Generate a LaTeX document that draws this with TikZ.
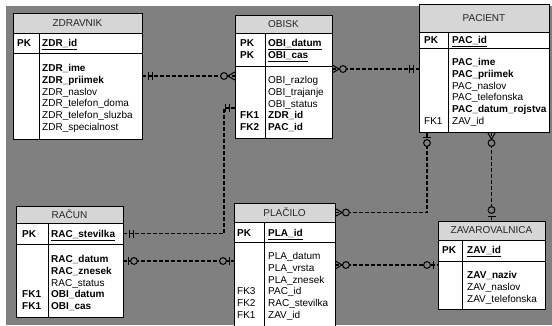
\documentclass[tikz,border=0pt]{standalone}
\usepackage{fontspec}
\setmainfont{Liberation Sans}
\usetikzlibrary{positioning, decorations.markings}
\definecolor{bggray}{RGB}{128,128,128}
\definecolor{headgray}{RGB}{214,214,214}
\tikzstyle{tabhead} = [rectangle, draw=black, fill=headgray, line width=0.7pt, inner sep=0pt, outer sep=0pt, text=black!85, anchor=north west]
\tikzstyle{tabrow} = [rectangle, draw=black, fill=white, line width=0.7pt, inner sep=0pt, outer sep=0pt]
\tikzstyle{fields} = [inner sep=0pt, anchor=north west]
\tikzstyle{rel} = [line width=1.4pt, dash pattern=on 4pt off 2pt]
\tikzset{
  bar at/.style={postaction={decorate, decoration={markings, mark=at position #1 with {\draw[solid, line width=1pt] (0pt,-4pt) -- (0pt,4pt);}}}},
  ring at/.style={postaction={decorate, decoration={markings, mark=at position #1 with {\draw[solid, line width=1pt, fill=bggray] (0pt,0pt) circle (3.4pt);}}}},
  foot start/.style={postaction={decorate, decoration={markings, mark=at position 0.2pt with {\draw[solid, line width=1pt] (0pt,4pt) -- (7pt,0pt) -- (0pt,-4pt);}}}},
  foot end/.style={postaction={decorate, decoration={markings, mark=at position -0.2pt with {\draw[solid, line width=1pt] (0pt,4pt) -- (-7pt,0pt) -- (0pt,-4pt);}}}},
  one start/.style={bar at=6pt, bar at=10pt},
  one end/.style={bar at=-6pt, bar at=-10pt},
  opt start/.style={bar at=5pt, ring at=11pt},
  opt end/.style={bar at=-5pt, ring at=-11pt},
  many start/.style={foot start, ring at=11pt},
  many end/.style={foot end, ring at=-11pt}
}

\begin{document}
\begin{tikzpicture}[x=1pt, y=-1pt, font=\fontsize{10}{11.8}\selectfont]
\useasboundingbox (0,0) rectangle (552,325);
\fill [bggray] (6,6) rectangle (552,325);

% ZDRAVNIK
\node (zdrhead) [tabhead, minimum width=129pt, minimum height=20pt] at (13,13) {ZDRAVNIK};
\node (zdrkey) [tabrow, minimum width=129pt, minimum height=20pt, below=0pt of zdrhead] {};
\node (zdrbody) [tabrow, minimum width=129pt, minimum height=86pt, below=0pt of zdrkey] {};
\draw [line width=0.7pt] ([xshift=26pt]zdrkey.north west) -- ([xshift=26pt]zdrbody.south west);
\node [fields] at ([xshift=4pt,yshift=-5pt]zdrkey.north west) {\begin{tabular}{@{}p{25pt}@{}l@{}}
\textbf{PK} & \textbf{\underline{ZDR\_id}}
\end{tabular}};
\node [fields] at ([xshift=4pt,yshift=-10pt]zdrbody.north west) {\begin{tabular}{@{}p{25pt}@{}l@{}}
 & \textbf{ZDR\_ime}\\
 & \textbf{ZDR\_priimek}\\
 & ZDR\_naslov\\
 & ZDR\_telefon\_doma\\
 & ZDR\_telefon\_sluzba\\
 & ZDR\_specialnost
\end{tabular}};

% OBISK
\node (obihead) [tabhead, minimum width=97pt, minimum height=18pt] at (235,15) {OBISK};
\node (obikey) [tabrow, minimum width=97pt, minimum height=33pt, below=0pt of obihead] {};
\node (obibody) [tabrow, minimum width=97pt, minimum height=72pt, below=0pt of obikey] {};
\draw [line width=0.7pt] ([xshift=30pt]obikey.north west) -- ([xshift=30pt]obibody.south west);
\node [fields] at ([xshift=5pt,yshift=-5pt]obikey.north west) {\begin{tabular}{@{}p{28pt}@{}l@{}}
\textbf{PK} & \textbf{\underline{OBI\_datum}}\\
\textbf{PK} & \textbf{\underline{OBI\_cas}}
\end{tabular}};
\node [fields] at ([xshift=5pt,yshift=-9pt]obibody.north west) {\begin{tabular}{@{}p{28pt}@{}l@{}}
 & OBI\_razlog\\
 & OBI\_trajanje\\
 & OBI\_status\\
\textbf{FK1} & \textbf{ZDR\_id}\\
\textbf{FK2} & \textbf{PAC\_id}
\end{tabular}};

% PACIENT
\node (pachead) [tabhead, minimum width=130pt, minimum height=28pt] at (419,4) {PACIENT};
\node (packey) [tabrow, minimum width=130pt, minimum height=16pt, below=0pt of pachead] {};
\node (pacbody) [tabrow, minimum width=130pt, minimum height=84pt, below=0pt of packey] {};
\draw [line width=0.7pt] ([xshift=29pt]packey.north west) -- ([xshift=29pt]pacbody.south west);
\node [fields] at ([xshift=5pt,yshift=-3pt]packey.north west) {\begin{tabular}{@{}p{28pt}@{}l@{}}
\textbf{PK} & \textbf{\underline{PAC\_id}}
\end{tabular}};
\node [fields] at ([xshift=5pt,yshift=-9pt]pacbody.north west) {\begin{tabular}{@{}p{28pt}@{}l@{}}
 & \textbf{PAC\_ime}\\
 & \textbf{PAC\_priimek}\\
 & PAC\_naslov\\
 & PAC\_telefonska\\
 & \textbf{PAC\_datum\_rojstva}\\
FK1 & ZAV\_id
\end{tabular}};

% RACUN
\node (rachead) [tabhead, minimum width=107pt, minimum height=17pt] at (16,206) {RAČUN};
\node (rackey) [tabrow, minimum width=107pt, minimum height=21pt, below=0pt of rachead] {};
\node (racbody) [tabrow, minimum width=107pt, minimum height=73pt, below=0pt of rackey] {};
\draw [line width=0.7pt] ([xshift=32pt]rackey.north west) -- ([xshift=32pt]racbody.south west);
\node [fields] at ([xshift=6pt,yshift=-6pt]rackey.north west) {\begin{tabular}{@{}p{29pt}@{}l@{}}
\textbf{PK} & \textbf{\underline{RAC\_stevilka}}
\end{tabular}};
\node [fields] at ([xshift=6pt,yshift=-10pt]racbody.north west) {\begin{tabular}{@{}p{29pt}@{}l@{}}
 & \textbf{RAC\_datum}\\
 & \textbf{RAC\_znesek}\\
 & RAC\_status\\
\textbf{FK1} & \textbf{OBI\_datum}\\
\textbf{FK1} & \textbf{OBI\_cas}
\end{tabular}};

% PLACILO
\node (plahead) [tabhead, minimum width=101pt, minimum height=19pt] at (234,203) {PLAČILO};
\node (plakey) [tabrow, minimum width=101pt, minimum height=20pt, below=0pt of plahead] {};
\node (plabody) [tabrow, minimum width=101pt, minimum height=86pt, below=0pt of plakey] {};
\draw [line width=0.7pt] ([xshift=30pt]plakey.north west) -- ([xshift=30pt]plabody.south west);
\node [fields] at ([xshift=3pt,yshift=-6pt]plakey.north west) {\begin{tabular}{@{}p{31pt}@{}l@{}}
\textbf{PK} & \textbf{\underline{PLA\_id}}
\end{tabular}};
\node [fields] at ([xshift=3pt,yshift=-9pt]plabody.north west) {\begin{tabular}{@{}p{31pt}@{}l@{}}
 & PLA\_datum\\
 & PLA\_vrsta\\
 & PLA\_znesek\\
FK3 & PAC\_id\\
FK2 & RAC\_stevilka\\
FK1 & ZAV\_id
\end{tabular}};

% ZAVAROVALNICA
\node (zavhead) [tabhead, minimum width=107pt, minimum height=19pt] at (438,221) {ZAVAROVALNICA};
\node (zavkey) [tabrow, minimum width=107pt, minimum height=21pt, below=0pt of zavhead] {};
\node (zavbody) [tabrow, minimum width=107pt, minimum height=48pt, below=0pt of zavkey] {};
\draw [line width=0.7pt] ([xshift=24pt]zavkey.north west) -- ([xshift=24pt]zavbody.south west);
\node [fields] at ([xshift=4pt,yshift=-5pt]zavkey.north west) {\begin{tabular}{@{}p{25pt}@{}l@{}}
\textbf{PK} & \textbf{\underline{ZAV\_id}}
\end{tabular}};
\node [fields] at ([xshift=4pt,yshift=-9pt]zavbody.north west) {\begin{tabular}{@{}p{25pt}@{}l@{}}
 & \textbf{ZAV\_naziv}\\
 & ZAV\_naslov\\
 & ZAV\_telefonska
\end{tabular}};

% relations
\coordinate (zo) at ([yshift=20pt]zdrbody.east);
\draw [rel, one start, many end] (zo) -- (zo -| obibody.west);
\coordinate (op) at ([yshift=33pt]obibody.east);
\draw [rel, many start, one end] (op) -- (op -| pacbody.west);
\draw [rel, one start, one end] ([yshift=-6pt]obibody.west) -- ++(-11,0) |- (rackey.east);
\coordinate (rp) at ([yshift=19.5pt]racbody.east);
\draw [rel, opt start, opt end] (rp) -- (rp -| plabody.west);
\draw [rel, many start, opt end] (plahead.east) -| ([xshift=8pt]pacbody.south west);
\draw [rel, many start, opt end] (zavhead.north |- pacbody.south) -- (zavhead.north);
\coordinate (pz) at ([yshift=20pt]plabody.east);
\draw [rel, many start, opt end] (pz) -- (pz -| zavbody.west);
\end{tikzpicture}
\end{document}
